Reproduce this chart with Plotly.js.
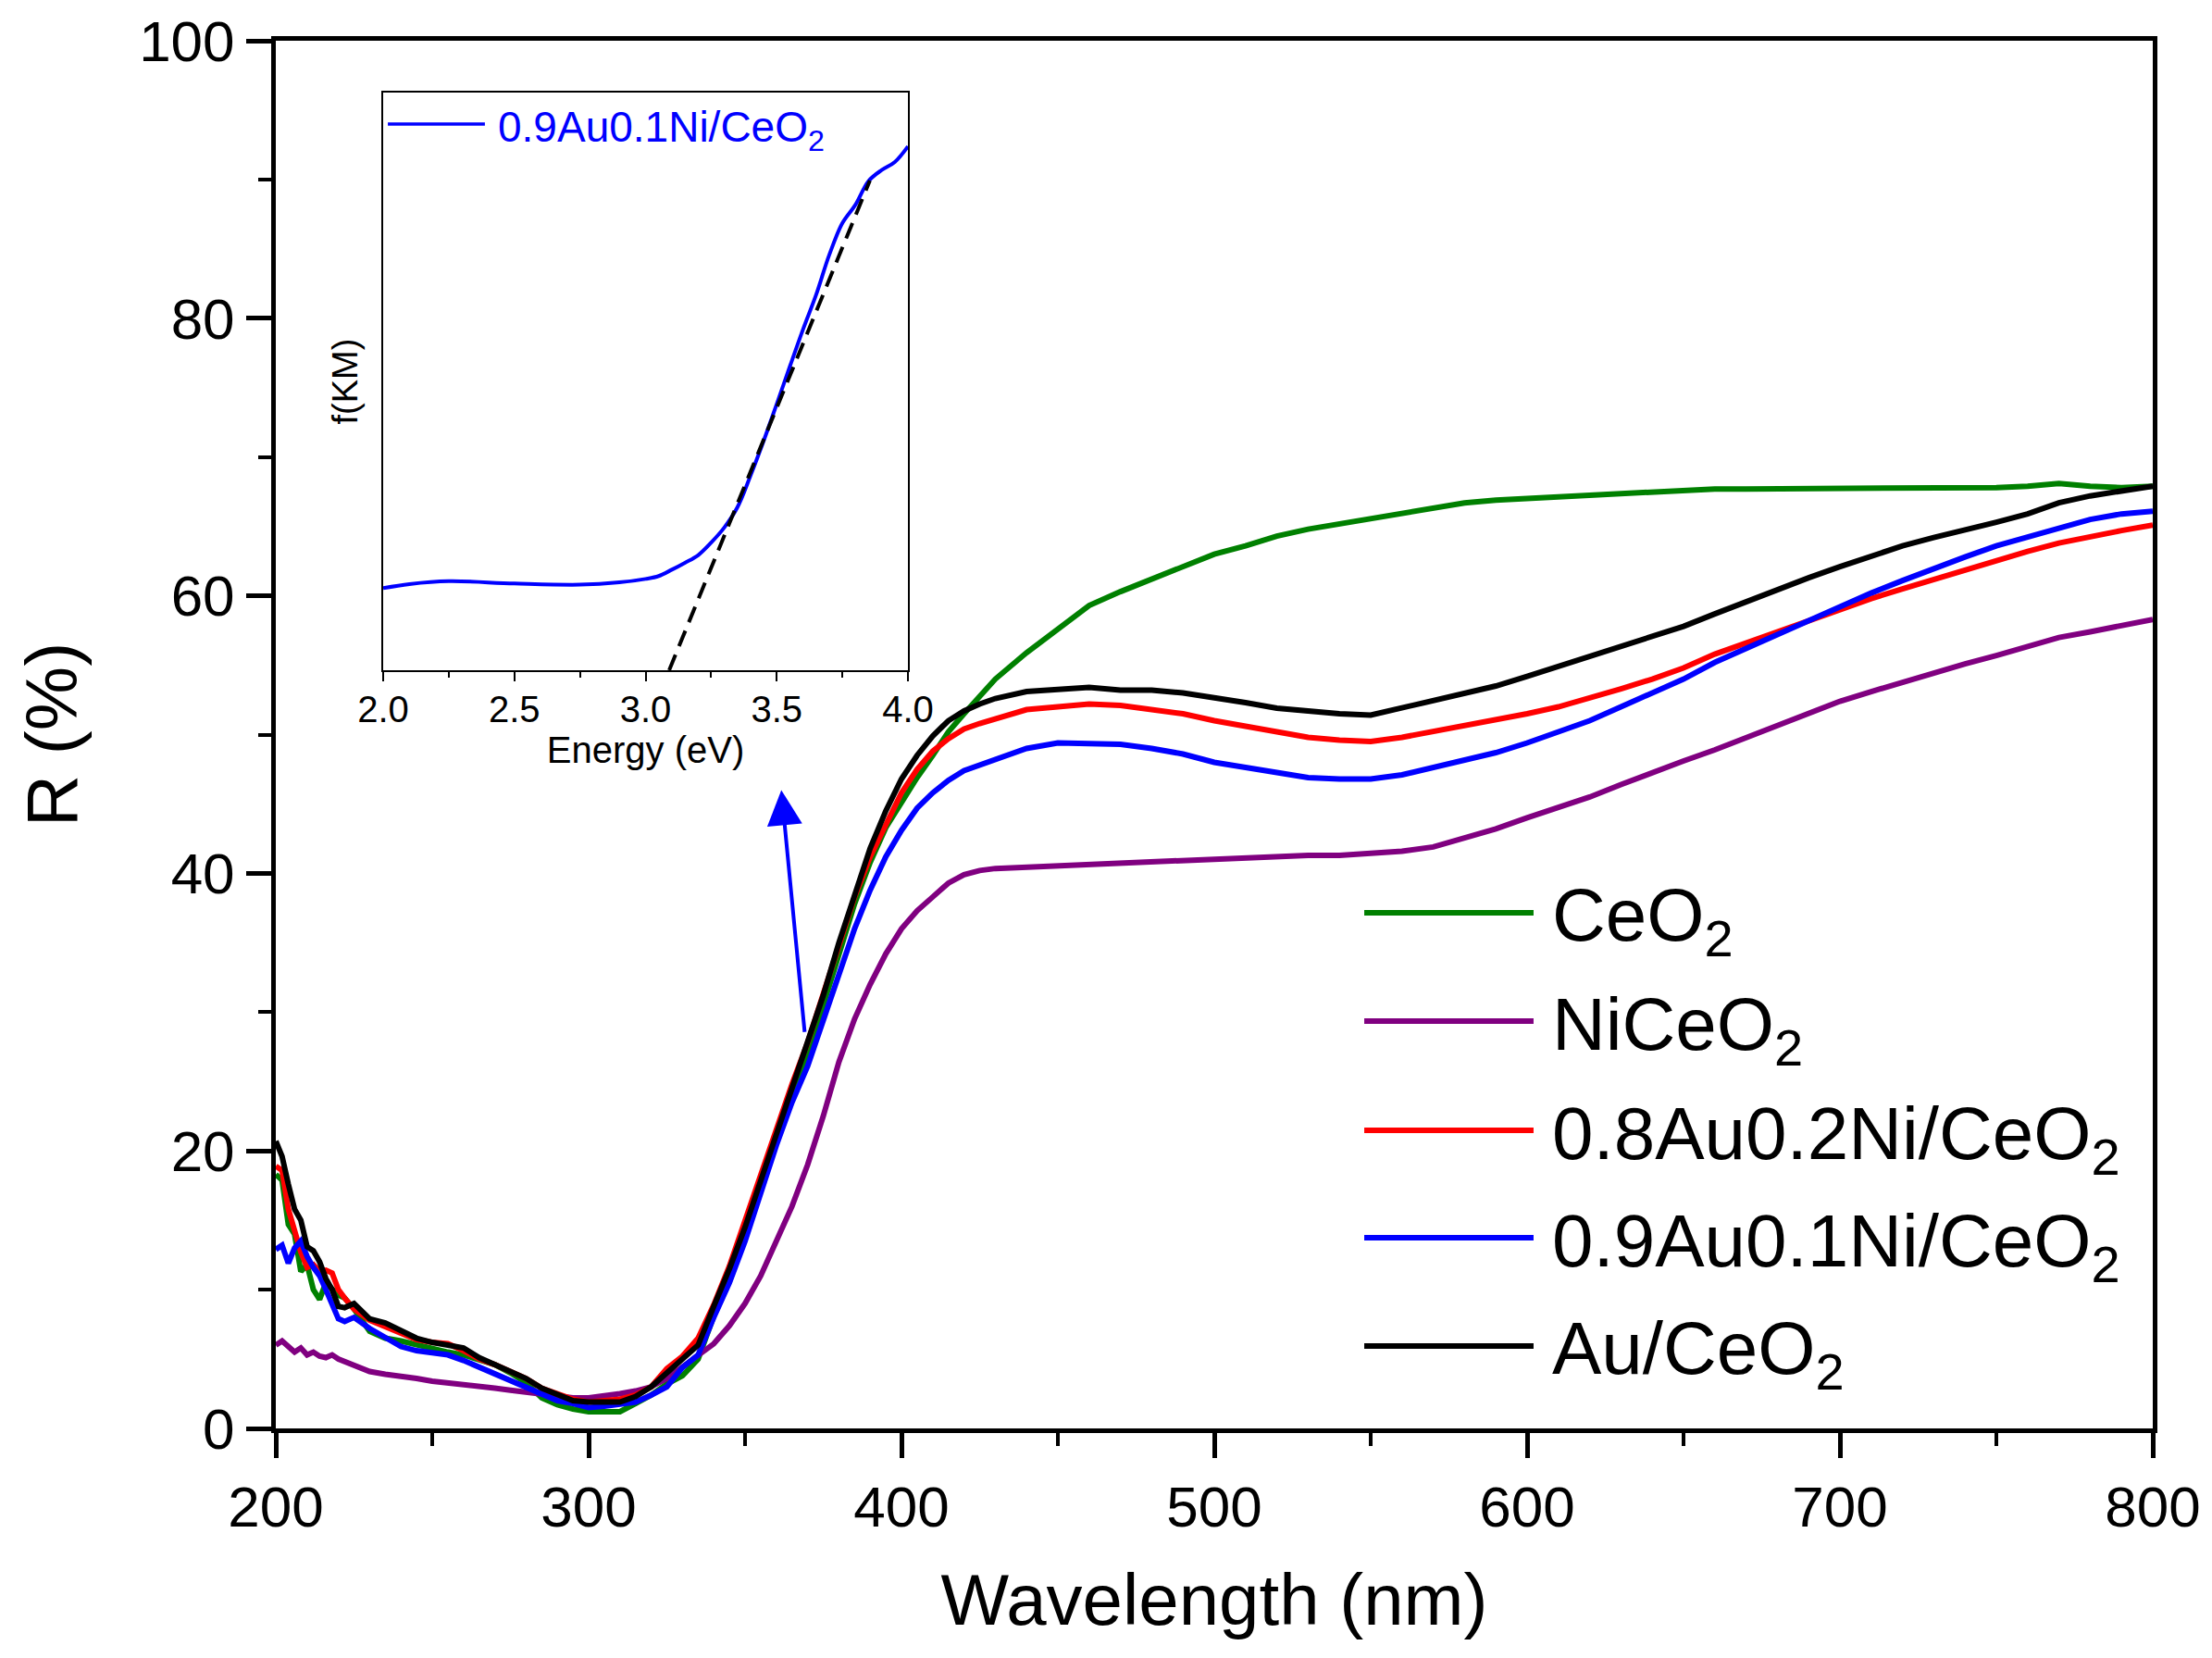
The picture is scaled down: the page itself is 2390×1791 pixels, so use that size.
<!DOCTYPE html>
<html>
<head>
<meta charset="utf-8">
<script src="https://cdn.plot.ly/plotly-3.0.1.min.js"></script>
<style>html,body{margin:0;padding:0;background:#fff;}#chart{width:2390px;height:1791px;}</style>
</head>
<body>
<div id="chart"></div>
<script>
// ---------- data ----------
const wavelength = [200,202,204,206,208,210,212,214,216,218,220,222,225,230,235,240,245,250,255,260,265,270,275,280,285,290,295,300,305,310,315,320,325,330,335,340,345,350,355,360,365,370,375,380,385,390,395,400,405,410,415,420,425,430,440,450,460,470,480,490,500,510,520,530,540,550,560,570,580,590,600,610,620,630,640,650,660,670,680,690,700,710,720,730,740,750,760,770,780,790,800];

const rCeO2 = [18.3,17.9,14.7,14.0,11.3,11.8,10.0,9.3,10.5,10.0,9.6,9.4,8.6,7.0,6.5,6.3,6.0,5.7,5.5,5.3,4.9,4.6,4.0,3.3,2.2,1.7,1.4,1.2,1.2,1.2,1.8,2.4,3.2,3.8,5.0,8.1,10.6,13.7,17.4,20.8,23.8,26.9,30.5,34.2,37.8,40.8,43.3,45.1,46.9,48.5,50.2,51.5,52.8,54.0,55.9,57.6,59.3,60.3,61.2,62.2,63.0,63.6,64.3,64.8,65.2,65.6,66.0,66.4,66.7,66.9,67.0,67.2,67.3,67.4,67.5,67.6,67.7,67.7,67.7,67.8,67.8,67.8,67.7,67.8,67.8,67.8,67.9,68.1,67.9,67.8,67.9];

const rNiCeO2 = [6.0,6.3,5.9,5.5,5.8,5.3,5.5,5.2,5.1,5.3,5.0,4.8,4.5,4.1,3.9,3.8,3.6,3.4,3.3,3.2,3.0,2.9,2.75,2.6,2.5,2.3,2.2,2.2,2.3,2.5,2.7,3.0,3.6,4.4,5.3,6.1,7.4,9.0,11.0,13.4,16.0,19.0,22.5,26.4,29.5,32.0,34.2,36.0,37.3,38.3,39.3,39.9,40.2,40.35,40.45,40.5,40.7,40.7,40.8,40.9,41.0,41.2,41.3,41.3,41.3,41.4,41.6,41.9,42.5,43.2,44.0,44.7,45.5,46.4,47.3,48.1,48.9,49.8,50.6,51.5,52.4,53.1,53.8,54.4,55.1,55.7,56.4,57.0,57.4,57.9,58.3];

const rAu08Ni02 = [18.9,18.6,15.8,14.3,12.7,11.6,11.8,11.3,11.4,11.2,10.0,9.4,8.6,7.8,7.3,6.8,6.4,6.2,6.1,5.6,5.0,4.6,4.1,3.6,2.9,2.5,2.1,1.9,2.0,2.1,2.4,3.0,4.3,5.2,6.5,8.9,11.7,15.0,18.5,21.5,24.8,27.8,31.3,35.0,38.3,41.2,43.6,45.8,47.5,48.8,49.7,50.4,50.8,51.1,51.8,52.0,52.2,52.1,51.8,51.5,51.0,50.6,50.1,49.8,49.6,49.5,49.8,50.2,50.6,51.0,51.5,52.0,52.6,53.3,54.0,54.8,55.8,56.6,57.5,58.2,59.0,59.8,60.5,61.2,61.9,62.5,63.2,63.8,64.3,64.7,65.1];

const rAu09Ni01 = [12.9,13.2,11.9,13.0,13.5,12.4,11.6,11.0,10.0,8.9,7.9,7.7,8.0,7.2,6.6,5.9,5.6,5.4,5.3,4.9,4.4,4.0,3.5,3.0,2.4,2.0,1.8,1.5,1.6,1.7,1.9,2.4,3.0,4.4,5.3,8.0,10.5,13.5,17.0,20.4,23.5,26.1,29.4,32.8,36.0,38.8,41.2,43.1,44.7,45.8,46.7,47.4,47.8,48.2,49.0,49.4,49.3,49.3,49.0,48.6,48.0,47.6,47.2,46.9,46.8,46.8,47.1,47.6,48.1,48.7,49.4,50.2,51.0,52.0,53.0,54.0,55.2,56.2,57.3,58.3,59.3,60.2,61.1,62.0,62.8,63.6,64.2,64.9,65.5,65.9,66.1];

const rAuCeO2 = [20.7,19.6,17.6,15.8,15.0,13.1,12.8,12.0,10.8,10.0,8.8,8.7,9.0,7.9,7.6,7.1,6.5,6.2,6.0,5.8,5.1,4.6,4.0,3.6,2.9,2.4,2.0,1.9,1.9,1.9,2.3,3.0,4.0,5.0,6.0,8.8,11.5,14.5,17.8,21.0,24.5,27.6,31.2,35.0,38.5,41.8,44.5,46.8,48.5,49.9,51.0,51.7,52.2,52.6,53.1,53.3,53.4,53.2,53.2,53.0,52.7,52.3,51.9,51.7,51.5,51.4,51.9,52.5,53.0,53.5,54.2,54.9,55.6,56.3,57.1,57.8,58.7,59.6,60.5,61.3,62.1,62.9,63.6,64.2,64.7,65.3,65.9,66.7,67.2,67.6,67.9];

const seriesNames = ['CeO<sub>2</sub>','NiCeO<sub>2</sub>','0.8Au0.2Ni/CeO<sub>2</sub>','0.9Au0.1Ni/CeO<sub>2</sub>','Au/CeO<sub>2</sub>'];
const seriesColors = ['#008000','#800080','#ff0000','#0000ff','#000000'];
const seriesValues = [rCeO2, rNiCeO2, rAu08Ni02, rAu09Ni01, rAuCeO2];

// inset (Kubelka-Munk) data
const energy = [2.0,2.1,2.25,2.5,2.75,2.9,3.0,3.05,3.1,3.15,3.2,3.25,3.3,3.35,3.4,3.45,3.5,3.55,3.6,3.65,3.7,3.75,3.8,3.85,3.9,3.95,4.0];
const fKM = [0.142,0.149,0.154,0.150,0.148,0.152,0.158,0.163,0.174,0.186,0.199,0.221,0.247,0.282,0.337,0.397,0.461,0.526,0.590,0.650,0.719,0.774,0.806,0.847,0.866,0.880,0.907];
const tangentE = [3.09, 3.855];
const tangentF = [0.0, 0.848];
const insetName = '0.9Au0.1Ni/CeO<sub>2</sub>';

// arrow (data coords): tail -> head
const arrowTail = [369.3, 28.0];
const arrowHead = [361.6, 46.0];

// ---------- build ----------
const FONT = 'Arial, "Liberation Sans", Helvetica, sans-serif';
const traces = seriesValues.map((v, i) => ({
  x: wavelength, y: v, type: 'scatter', mode: 'lines',
  name: seriesNames[i], line: {color: seriesColors[i], width: 6},
  xaxis: 'x', yaxis: 'y', showlegend: false
}));
traces.push({x: energy, y: fKM, type: 'scatter', mode: 'lines', name: insetName,
  line: {color: '#0000ff', width: 4, shape: 'spline'}, xaxis: 'x2', yaxis: 'y2', showlegend: false});
traces.push({x: tangentE, y: tangentF, type: 'scatter', mode: 'lines', name: 'fit',
  line: {color: '#000000', width: 4, dash: '18px,10px'}, xaxis: 'x2', yaxis: 'y2', showlegend: false});

// legend layout (paper coords)
const legX0 = 0.5799, legX1 = 0.6701, legTextX = 0.679;
const legY = [0.3716, 0.2935, 0.2148, 0.1374, 0.0594];
const shapes = [];
const annotations = [];
seriesNames.forEach((n, i) => {
  shapes.push({type: 'line', xref: 'paper', yref: 'paper', x0: legX0, x1: legX1, y0: legY[i], y1: legY[i],
    line: {color: seriesColors[i], width: 6}});
  annotations.push({xref: 'paper', yref: 'paper', x: legTextX, y: legY[i], xanchor: 'left', yanchor: 'middle',
    yshift: -9, text: n, showarrow: false, font: {family: FONT, size: 80, color: '#000'}});
});
// inset legend
shapes.push({type: 'line', xref: 'paper', yref: 'paper', x0: 0.0597, x1: 0.1114, y0: 0.940, y1: 0.940,
  line: {color: '#0000ff', width: 3.5}});
annotations.push({xref: 'paper', yref: 'paper', x: 0.1174, y: 0.940, xanchor: 'left', yanchor: 'middle', yshift: -7,
  text: insetName, showarrow: false, font: {family: FONT, size: 46, color: '#0000ff'}});
// arrow
annotations.push({x: arrowHead[0], y: arrowHead[1], ax: arrowTail[0], ay: arrowTail[1], xref: 'x', yref: 'y',
  axref: 'x', ayref: 'y', showarrow: true, arrowhead: 2, arrowsize: 1.9, arrowwidth: 4, arrowcolor: '#0000ff', text: ' '});

const layout = {
  width: 2390, height: 1791,
  margin: {l: 298, r: 64, t: 44, b: 248},
  paper_bgcolor: '#fff', plot_bgcolor: '#fff',
  font: {family: FONT, color: '#000'},
  xaxis: {
    range: [200, 800], dtick: 100, tick0: 200, showgrid: false, zeroline: false,
    showline: true, linewidth: 5, linecolor: '#000', mirror: true,
    ticks: 'outside', ticklen: 27, tickwidth: 5, tickcolor: '#000',
    minor: {dtick: 50, ticks: 'outside', ticklen: 14, tickwidth: 4, tickcolor: '#000', showgrid: false},
    tickfont: {family: FONT, size: 62, color: '#000'},
    title: {text: 'Wavelength (nm)', font: {family: FONT, size: 78, color: '#000'}, standoff: 40},
    domain: [0, 1], anchor: 'y'
  },
  yaxis: {
    range: [0, 100], dtick: 20, tick0: 0, showgrid: false, zeroline: false,
    showline: true, linewidth: 5, linecolor: '#000', mirror: true,
    ticks: 'outside', ticklen: 27, tickwidth: 5, tickcolor: '#000',
    minor: {dtick: 10, ticks: 'outside', ticklen: 14, tickwidth: 4, tickcolor: '#000', showgrid: false},
    tickfont: {family: FONT, size: 62, color: '#000'},
    title: {text: 'R (%)', font: {family: FONT, size: 78, color: '#000'}, standoff: 42},
    domain: [0, 1], anchor: 'x'
  },
  xaxis2: {
    domain: [0.0572, 0.3368], anchor: 'y2', range: [2, 4], dtick: 0.5, tick0: 2, tickformat: '.1f',
    showgrid: false, zeroline: false, showline: true, linewidth: 2, linecolor: '#000', mirror: true,
    ticks: 'outside', ticklen: 10, tickwidth: 2, tickcolor: '#000',
    minor: {dtick: 0.25, ticks: 'outside', ticklen: 6, tickwidth: 2, tickcolor: '#000', showgrid: false},
    tickfont: {family: FONT, size: 40, color: '#000'},
    ticklabelstandoff: -4,
    title: {text: 'Energy (eV)', font: {family: FONT, size: 40, color: '#000'}, standoff: 4}
  },
  yaxis2: {
    domain: [0.5464, 0.9626], anchor: 'x2', range: [0, 1],
    showgrid: false, zeroline: false, showline: true, linewidth: 2, linecolor: '#000', mirror: true,
    ticks: '', showticklabels: false,
    title: {text: 'f(KM)', font: {family: FONT, size: 38, color: '#000'}, standoff: 14}
  },
  shapes: shapes,
  annotations: annotations,
  showlegend: false
};

Plotly.newPlot('chart', traces, layout, {staticPlot: true, displayModeBar: false});
</script>
</body>
</html>
